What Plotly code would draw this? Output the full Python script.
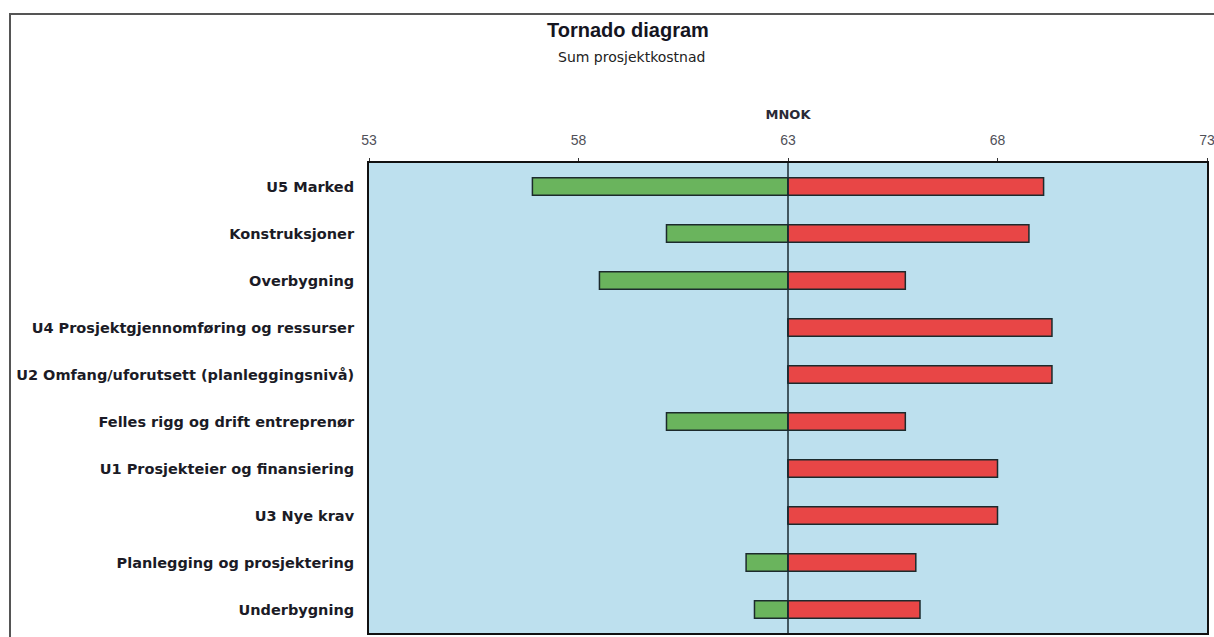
import plotly.graph_objects as go

# Sensitivity of total project cost (MNOK) per uncertainty driver
categories = [
    "U5 Marked",
    "Konstruksjoner",
    "Overbygning",
    "U4 Prosjektgjennomføring og ressurser",
    "U2 Omfang/uforutsett (planleggingsnivå)",
    "Felles rigg og drift entreprenør",
    "U1 Prosjekteier og finansiering",
    "U3 Nye krav",
    "Planlegging og prosjektering",
    "Underbygning",
]
low_values = [56.9, 60.1, 58.5, 63.0, 63.0, 60.1, 63.0, 63.0, 62.0, 62.2]
high_values = [69.1, 68.75, 65.8, 69.3, 69.3, 65.8, 68.0, 68.0, 66.05, 66.15]
base_value = 63
tick_values = [53, 58, 63, 68, 73]

W, H = 1214, 637
L, R, T, B = 369, 7, 163, 4
pw, ph = W - L - R, H - T - B

outline = dict(color="#1c2a2c", width=1.5)

fig = go.Figure()
fig.add_trace(go.Bar(
    y=categories,
    x=[lo - base_value for lo in low_values],
    base=base_value,
    orientation="h",
    marker=dict(color="#6ab45d", line=outline),
    width=0.37,
    hoverinfo="skip",
))
fig.add_trace(go.Bar(
    y=categories,
    x=[hi - base_value for hi in high_values],
    base=base_value,
    orientation="h",
    marker=dict(color="#e84646", line=outline),
    width=0.37,
    hoverinfo="skip",
))

# outer chart frame
fig.add_shape(type="rect", xref="paper", yref="paper",
              x0=(10 - L) / pw, x1=(W + 20 - L) / pw,
              y0=-(B + 20) / ph, y1=(H - B - 14) / ph,
              line=dict(color="#555555", width=2), layer="below")
# base line at the expected cost
fig.add_shape(type="line", xref="x", yref="paper",
              x0=base_value, x1=base_value, y0=0, y1=1,
              line=dict(color="#1a2a30", width=1.5))

fig.add_annotation(text="<b>Tornado diagram</b>", xref="paper", yref="paper",
                   x=(628 - L) / pw, y=(H - B - 30) / ph, showarrow=False,
                   font=dict(family="Liberation Sans, Arial", size=20, color="#15151f"),
                   xanchor="center", yanchor="middle")
fig.add_annotation(text="Sum prosjektkostnad", xref="paper", yref="paper",
                   x=(631 - L) / pw, y=(H - B - 57) / ph, showarrow=False,
                   font=dict(family="DejaVu Sans", size=14, color="#222222"),
                   xanchor="center", yanchor="middle")

fig.update_layout(
    width=W, height=H,
    margin=dict(l=L, r=R, t=T, b=B, autoexpand=False),
    paper_bgcolor="white",
    plot_bgcolor="#bde0ee",
    barmode="overlay",
    showlegend=False,
    xaxis=dict(
        side="top", range=[53, 73], tickvals=tick_values,
        automargin=False, ticklabeloverflow="allow",
        showgrid=False, zeroline=False,
        showline=True, mirror=True, linecolor="#111111", linewidth=2,
        ticks="outside", ticklen=3, tickcolor="#333333",
        ticklabelstandoff=7,
        tickfont=dict(family="Liberation Sans, Arial", size=14, color="#505058"),
        title=dict(text="<b>MNOK</b>", standoff=10,
                   font=dict(family="DejaVu Sans", size=13, color="#2a2a36")),
    ),
    yaxis=dict(
        categoryorder="array", categoryarray=categories, autorange="reversed",
        automargin=False,
        showgrid=False, zeroline=False,
        showline=True, mirror=True, linecolor="#111111", linewidth=2,
        ticks="outside", ticklen=10, tickcolor="rgba(0,0,0,0)",
        tickfont=dict(family="DejaVu Sans", size=14.5, color="#1b1b26"),
        tickprefix="<b>", ticksuffix="</b>",
    ),
)

fig.write_html("out.html")
